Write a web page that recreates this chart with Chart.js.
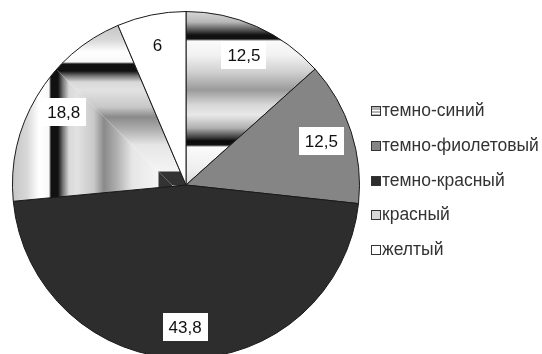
<!DOCTYPE html>
<html>
<head>
<meta charset="utf-8">
<script src="https://cdn.jsdelivr.net/npm/chart.js@4.4.1/dist/chart.umd.min.js"></script>
<style>
  html, body { margin: 0; padding: 0; background: #fff; overflow: hidden; }
  #wrap { width: 542px; height: 380px; }
</style>
</head>
<body>
<div id="wrap"><canvas id="pieChart" width="542" height="380"></canvas></div>
<script>
// colour names and their shares
var labels = ["темно-синий", "темно-фиолетовый", "темно-красный", "красный", "желтый"];
var values = [12.5, 12.5, 43.8, 18.8, 6];
var valueText = ["12,5", "12,5", "43,8", "18,8", "6"];

var canvas = document.getElementById("pieChart");
var ctx = canvas.getContext("2d");

// horizontal bands for the first slice
function bandFill() {
  var g = ctx.createLinearGradient(0, 11, 0, 185);
  var stops = [
    [11, "#d8d8d8"], [22, "#b8b8b8"], [30, "#555"], [35, "#111"], [39, "#111"],
    [41, "#fafafa"], [55, "#f2f2f2"], [72, "#d0d0d0"], [90, "#9a9a9a"],
    [105, "#d8d8d8"], [115, "#e8e8e8"], [128, "#b0b0b0"], [137, "#444"],
    [141, "#0a0a0a"], [145, "#111"], [147, "#fafafa"], [170, "#eee"], [185, "#d8d8d8"]
  ];
  stops.forEach(function (s) { g.addColorStop((s[0] - 11) / 174, s[1]); });
  return g;
}

// square rings around a corner near the centre for the "красный" slice
function cornerFill() {
  var off = document.createElement("canvas");
  off.width = 542; off.height = 380;
  var o = off.getContext("2d");
  var kx = 172, ky = 185, span = 180;
  var stops = [
    [0, "#333"], [13, "#333"], [14, "#f4f4f4"], [40, "#e6e6e6"], [55, "#b0b0b0"],
    [68, "#8a8a8a"], [78, "#c8c8c8"], [95, "#e2e2e2"], [103, "#d8d8d8"], [109, "#777"],
    [114, "#111"], [121, "#111"], [123, "#f8f8f8"], [133, "#fff"], [145, "#d8d8d8"],
    [160, "#c4c4c4"], [180, "#b8b8b8"]
  ];
  function grad(x0, y0, x1, y1) {
    var g = o.createLinearGradient(x0, y0, x1, y1);
    stops.forEach(function (s) { g.addColorStop(s[0] / span, s[1]); });
    return g;
  }
  // part where the horizontal distance dominates
  o.save();
  o.beginPath();
  o.moveTo(kx, ky); o.lineTo(kx - 600, ky - 600); o.lineTo(kx - 600, 600); o.lineTo(kx, 600);
  o.closePath(); o.clip();
  o.fillStyle = grad(kx, 0, kx - span, 0);
  o.fillRect(0, 0, 542, 380);
  o.restore();
  // part where the vertical distance dominates
  o.save();
  o.beginPath();
  o.moveTo(kx, ky); o.lineTo(kx - 600, ky - 600); o.lineTo(600, ky - 600); o.lineTo(600, ky);
  o.closePath(); o.clip();
  o.fillStyle = grad(0, ky, 0, ky - span);
  o.fillRect(0, 0, 542, 380);
  o.restore();
  return ctx.createPattern(off, "no-repeat");
}

var fills = [bandFill(), "#858585", "#2d2d2d", cornerFill(), "#ffffff"];
var legendSwatch = ["#b5b5b5", "#858585", "#2d2d2d", "#d8d8d8", "#ffffff"];

// white boxes with the value inside each slice
var valueBoxes = {
  id: "valueBoxes",
  afterDatasetsDraw: function (chart) {
    var c = chart.ctx;
    var arcs = chart.getDatasetMeta(0).data;
    c.save();
    c.font = "17px 'Liberation Sans', Arial, sans-serif";
    c.textAlign = "center";
    c.textBaseline = "middle";
    arcs.forEach(function (arc, i) {
      var p = arc.getProps(["x", "y", "startAngle", "endAngle", "outerRadius"], true);
      var mid = (p.startAngle + p.endAngle) / 2;
      var d = p.outerRadius * 0.82;
      var x = p.x + Math.cos(mid) * d;
      var y = p.y + Math.sin(mid) * d;
      var w = c.measureText(valueText[i]).width + 12;
      c.fillStyle = "#fff";
      c.fillRect(Math.round(x - w / 2), Math.round(y - 14), Math.round(w), 28);
      c.fillStyle = "#111";
      c.fillText(valueText[i], x, y + 1);
    });
    c.restore();
  }
};

// legend on the right
var sideLegend = {
  id: "sideLegend",
  afterDraw: function (chart) {
    var c = chart.ctx;
    c.save();
    c.font = "17.5px 'Liberation Sans', Arial, sans-serif";
    c.textBaseline = "middle";
    chart.data.labels.forEach(function (name, i) {
      var y = Math.round(111 + i * 34.8);
      c.fillStyle = legendSwatch[i];
      c.fillRect(372, y - 4, 8, 8);
      if (i === 0) {
        c.fillStyle = "#fff";
        c.fillRect(372, y - 1, 8, 1);
        c.fillRect(372, y + 2, 8, 1);
      }
      c.strokeStyle = "#333";
      c.lineWidth = 1;
      c.strokeRect(371.5, y - 4.5, 9, 9);
      c.fillStyle = "#333";
      c.fillText(name, 382, y);
    });
    c.restore();
  }
};

new Chart(canvas, {
  type: "pie",
  data: {
    labels: labels,
    datasets: [{
      data: values,
      backgroundColor: fills,
      borderColor: "#1a1a1a",
      borderWidth: 1
    }]
  },
  options: {
    responsive: false,
    animation: false,
    layout: { padding: { left: 12, right: 182, top: 11, bottom: 21 } },
    plugins: {
      legend: { display: false },
      tooltip: { enabled: false }
    }
  },
  plugins: [valueBoxes, sideLegend]
});
</script>
</body>
</html>
